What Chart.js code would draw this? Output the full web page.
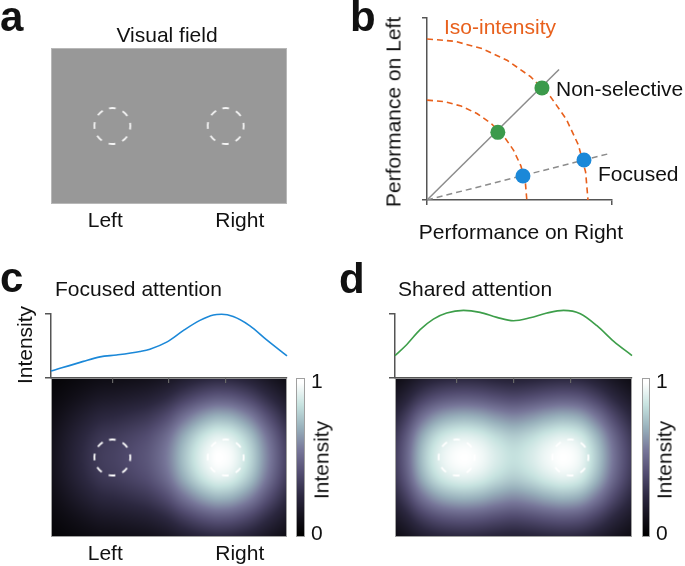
<!DOCTYPE html>
<html>
<head>
<meta charset="utf-8">
<script src="https://cdn.jsdelivr.net/npm/chart.js@4.4.1/dist/chart.umd.min.js"></script>
<style>
  body { margin: 0; background: #fff; }
  #wrap { position: relative; width: 685px; height: 566px; overflow: hidden; background: #fff; }
  #wrap canvas { position: absolute; left: 0; top: 0; }
</style>
</head>
<body>
<div id="wrap"></div>
<script>
// ---- data ----
// visual field positions run 0..100 from left to right
const fieldLabels = ['Left', 'Right'];
const fieldLabelPos = [23, 80];
const stimX = [26, 74];
const curveTicks = [26, 50, 74];

// panel b, performance units (outer iso-intensity circle = 1)
const isoOuter = [
  {x: 0, y: 1}, {x: 0.174, y: 0.985}, {x: 0.342, y: 0.94}, {x: 0.5, y: 0.866}, {x: 0.643, y: 0.766},
  {x: 0.766, y: 0.643}, {x: 0.866, y: 0.5}, {x: 0.94, y: 0.342}, {x: 0.985, y: 0.174}, {x: 1, y: 0}
];
const isoInner = [
  {x: 0, y: 0.62}, {x: 0.108, y: 0.611}, {x: 0.212, y: 0.583}, {x: 0.31, y: 0.537}, {x: 0.399, y: 0.475},
  {x: 0.475, y: 0.399}, {x: 0.537, y: 0.31}, {x: 0.583, y: 0.212}, {x: 0.611, y: 0.108}, {x: 0.62, y: 0}
];
const nonSelectiveLine = [{x: 0, y: 0}, {x: 0.82, y: 0.81}];
const focusedLine = [{x: 0, y: 0}, {x: 1.124, y: 0.286}];
const nonSelectivePts = [{x: 0.44, y: 0.42}, {x: 0.714, y: 0.696}];
const focusedPts = [{x: 0.596, y: 0.149}, {x: 0.975, y: 0.248}];

// panels c / d, intensity profiles
const focusedX = [0, 13.7, 20.8, 27.8, 37.7, 41.9, 49, 56, 63.1, 68.8, 72.3, 77.2, 84.3, 91.4, 100];
const focusedY = [0.108, 0.26, 0.33, 0.36, 0.415, 0.45, 0.56, 0.74, 0.9, 0.985, 0.995, 0.96, 0.815, 0.595, 0.345];
const sharedX = [0, 4.9, 10.6, 16.2, 21.8, 28.9, 35.9, 43, 50, 57, 64.1, 71.1, 78.2, 85.2, 92.3, 100];
const sharedY = [0.35, 0.52, 0.755, 0.92, 1.015, 1.056, 1.025, 0.947, 0.895, 0.94, 1.015, 1.056, 1.005, 0.817, 0.572, 0.35];
// vertical fall-off of the heat maps (-1 top edge .. 1 bottom edge)
const vertPos = [-1, -0.75, -0.5, -0.25, 0, 0.25, 0.5, 0.75, 1];
const vertProfile = [0.24, 0.46, 0.72, 0.93, 1, 0.93, 0.72, 0.46, 0.24];
const colorbarTicks = [0, 1];

// ---- styling ----
const FONT = "'Liberation Sans', Arial, Helvetica, sans-serif";
const ORANGE = '#e8601c', GREEN = '#3b9a4b', BLUE = '#1b88d8', AXIS = '#555';
const cmapStops = [
  [0, [0, 0, 0]], [0.1, [17, 15, 24]], [0.25, [44, 40, 64]], [0.4, [82, 76, 112]],
  [0.55, [118, 117, 152]], [0.7, [152, 176, 187]], [0.85, [198, 226, 223]], [1, [255, 255, 255]]
];

Chart.defaults.font.family = FONT;
Chart.defaults.font.size = 21;
Chart.defaults.color = '#111';
Chart.defaults.animation = false;
Chart.defaults.events = [];
Chart.defaults.plugins.legend.display = false;
Chart.defaults.plugins.tooltip.enabled = false;

const W = 685, H = 566;
const LABEL_BAND = 40;
const wrap = document.getElementById('wrap');
// chart area edges in page pixels; extra room is left for an axis band below / right
const area = (l, t, r, b, below, right) => ({left: l, top: t, right: W - r - (right || 0), bottom: H - b - (below || 0)});
const flat = s => { if (s.isHorizontal()) s.height = 0; else s.width = 0; };

function newCanvas() {
  const c = document.createElement('canvas');
  c.width = W; c.height = H;
  wrap.appendChild(c);
  return c;
}

function cmap(v) {
  v = Math.max(0, Math.min(1, v));
  for (let i = 1; i < cmapStops.length; i++) {
    if (v <= cmapStops[i][0]) {
      const [v0, c0] = cmapStops[i - 1], [v1, c1] = cmapStops[i];
      const t = (v - v0) / (v1 - v0);
      return c0.map((c, k) => Math.round(c + (c1[k] - c) * t));
    }
  }
  return [255, 255, 255];
}

// smooth (hermite) interpolation through read points
function interp(xs, ys, x) {
  const n = xs.length;
  if (x <= xs[0]) return ys[0];
  if (x >= xs[n - 1]) return ys[n - 1];
  let i = 0;
  while (x > xs[i + 1]) i++;
  const slope = k => {
    if (k === 0) return (ys[1] - ys[0]) / (xs[1] - xs[0]);
    if (k === n - 1) return (ys[n - 1] - ys[n - 2]) / (xs[n - 1] - xs[n - 2]);
    return (ys[k + 1] - ys[k - 1]) / (xs[k + 1] - xs[k - 1]);
  };
  const dx = xs[i + 1] - xs[i], t = (x - xs[i]) / dx;
  const t2 = t * t, t3 = t2 * t;
  return (2 * t3 - 3 * t2 + 1) * ys[i] + (t3 - 2 * t2 + t) * dx * slope(i) +
    (-2 * t3 + 3 * t2) * ys[i + 1] + (t3 - t2) * dx * slope(i + 1);
}

// dashed ring used as the point style for stimulus locations
function ring(color) {
  const c = document.createElement('canvas');
  c.width = c.height = 42;
  const g = c.getContext('2d');
  const r = 18, per = 2 * Math.PI * r / 8;
  g.strokeStyle = color;
  g.lineWidth = 1.8;
  g.setLineDash([per * 0.47, per * 0.53]);
  const a0 = -Math.PI / 2 - per * 0.235 / r;
  g.beginPath();
  g.arc(21, 21, r, a0, a0 + 2 * Math.PI);
  g.stroke();
  return c;
}

function fieldAxis(showLabels) {
  return {
    min: 0, max: 100,
    afterFit: s => { s.height = LABEL_BAND; },
    afterBuildTicks: s => { s.ticks = fieldLabelPos.map(v => ({value: v})); },
    ticks: {display: showLabels, autoSkip: false, maxRotation: 0, padding: 5, callback: (v, i) => fieldLabels[i]},
    grid: {display: false, drawTicks: false},
    border: {display: false}
  };
}

function endTicksAxis(max, ticks, len, color, width) {
  return {
    min: 0, max: max, afterFit: flat,
    afterBuildTicks: s => { s.ticks = ticks.map(v => ({value: v})); },
    ticks: {display: false},
    grid: {display: true, drawOnChartArea: false, drawTicks: true, tickLength: len, color: color, lineWidth: width},
    border: {display: true, color: AXIS, width: 1.5}
  };
}

// ---- panel a ----
new Chart(newCanvas(), {
  type: 'scatter',
  data: {datasets: [{data: stimX.map(x => ({x: x, y: 50})), pointStyle: ring('#f4f4f4'), pointRadius: 18}]},
  options: {
    responsive: false,
    layout: {padding: area(51, 48, 287, 204, LABEL_BAND)},
    scales: {x: fieldAxis(true), y: {display: false, min: 0, max: 100}}
  },
  plugins: [{
    id: 'field',
    beforeDatasetsDraw(chart) {
      const {ctx, chartArea: a} = chart;
      ctx.save();
      ctx.fillStyle = '#989898';
      ctx.fillRect(a.left, a.top, a.width, a.height);
      ctx.strokeStyle = '#b8b8b8';
      ctx.lineWidth = 1;
      ctx.strokeRect(a.left + 0.5, a.top + 0.5, a.width - 1, a.height - 1);
      ctx.restore();
    }
  }]
});

// ---- panel b ----
const lineSet = (data, color, dash, width) => ({
  data: data, showLine: true, pointRadius: 0, borderColor: color, borderWidth: width, borderDash: dash
});
new Chart(newCanvas(), {
  type: 'scatter',
  data: {datasets: [
    {data: nonSelectivePts, pointRadius: 7.5, backgroundColor: GREEN, borderWidth: 0},
    {data: focusedPts, pointRadius: 7.5, backgroundColor: BLUE, borderWidth: 0},
    lineSet(isoOuter, ORANGE, [6, 4], 1.6),
    lineSet(isoInner, ORANGE, [6, 4], 1.6),
    lineSet(nonSelectiveLine, '#8c8c8c', [], 1.5),
    lineSet(focusedLine, '#8c8c8c', [6, 4], 1.5)
  ]},
  options: {
    responsive: false,
    layout: {padding: area(427, 18, 612, 200)},
    scales: {
      x: endTicksAxis(1.149, [0, 1.149], 5, AXIS, 1.5),
      y: endTicksAxis(1.13, [0, 1.13], 5, AXIS, 1.5)
    }
  }
});

// ---- panels c / d ----
function curveChart(xs, ys, color, l, r) {
  new Chart(newCanvas(), {
    type: 'scatter',
    data: {datasets: [{
      data: xs.map((x, i) => ({x: x, y: ys[i]})), showLine: true, pointRadius: 0,
      borderColor: color, borderWidth: 1.6, cubicInterpolationMode: 'monotone', clip: false
    }]},
    options: {
      responsive: false,
      layout: {padding: area(l, 314, r, 378)},
      scales: {
        x: Object.assign(endTicksAxis(100, curveTicks, 5, '#666', 1.2), {border: {display: true, color: AXIS, width: 1.2}}),
        y: endTicksAxis(1, [0, 1], 6, AXIS, 1.5)
      }
    }
  });
}

function heatChart(xs, ys, l, r, showLabels) {
  const peak = Math.max(...ys);
  new Chart(newCanvas(), {
    type: 'scatter',
    data: {datasets: [{data: stimX.map(x => ({x: x, y: 0})), pointStyle: ring('#ffffff'), pointRadius: 18}]},
    options: {
      responsive: false,
      layout: {padding: area(l, 378, r, 537, LABEL_BAND)},
      scales: {x: fieldAxis(showLabels), y: {display: false, min: -1, max: 1}}
    },
    plugins: [{
      id: 'heat',
      beforeDatasetsDraw(chart) {
        const {ctx, chartArea: a, scales} = chart;
        const w = Math.round(a.width), h = Math.round(a.height);
        const fx = [], gy = [];
        for (let i = 0; i < w; i++) fx.push(interp(xs, ys, scales.x.getValueForPixel(a.left + i + 0.5)) / peak);
        for (let j = 0; j < h; j++) gy.push(interp(vertPos, vertProfile, scales.y.getValueForPixel(a.top + j + 0.5)));
        const img = ctx.createImageData(w, h);
        for (let j = 0; j < h; j++) {
          for (let i = 0; i < w; i++) {
            const c = cmap(fx[i] * gy[j]), k = (j * w + i) * 4;
            img.data[k] = c[0]; img.data[k + 1] = c[1]; img.data[k + 2] = c[2]; img.data[k + 3] = 255;
          }
        }
        ctx.putImageData(img, Math.round(a.left), Math.round(a.top));
        ctx.save();
        ctx.strokeStyle = '#a0a0a0';
        ctx.lineWidth = 1;
        ctx.strokeRect(Math.round(a.left) + 0.5, Math.round(a.top) + 0.5, w - 1, h - 1);
        ctx.restore();
      }
    }]
  });
}

function colorbar(l, r) {
  new Chart(newCanvas(), {
    type: 'scatter',
    data: {datasets: []},
    options: {
      responsive: false,
      layout: {padding: area(l, 378, r, 537, 0, LABEL_BAND)},
      scales: {
        x: {display: false, min: 0, max: 1},
        y: {
          position: 'right', min: -0.02, max: 1.03,
          afterFit: s => { s.width = LABEL_BAND; },
          afterBuildTicks: s => { s.ticks = colorbarTicks.map(v => ({value: v})); },
          ticks: {padding: 6, callback: v => String(v)},
          grid: {display: false, drawTicks: false},
          border: {display: false}
        }
      }
    },
    plugins: [{
      id: 'bar',
      beforeDatasetsDraw(chart) {
        const {ctx, chartArea: a, scales} = chart;
        ctx.save();
        for (let py = Math.floor(a.top); py < a.bottom; py++) {
          const c = cmap(scales.y.getValueForPixel(py + 0.5));
          ctx.fillStyle = `rgb(${c[0]},${c[1]},${c[2]})`;
          ctx.fillRect(a.left, py, a.width, 1);
        }
        ctx.strokeStyle = '#a0a0a0';
        ctx.lineWidth = 1;
        ctx.strokeRect(a.left + 0.5, a.top + 0.5, a.width - 1, a.height - 1);
        ctx.restore();
      }
    }]
  });
}

heatChart(focusedX, focusedY, 51, 287, true);
curveChart(focusedX, focusedY, BLUE, 51, 287);
colorbar(296, 305);
heatChart(sharedX, sharedY, 395, 632, false);
curveChart(sharedX, sharedY, '#3d9e4a', 395, 632);
colorbar(642, 650);

// ---- text ----
function label(text, x, y, o) {
  o = o || {};
  const d = document.createElement('div');
  d.textContent = text;
  const tx = o.align === 'left' ? '0' : '-50%';
  d.style.cssText = 'position:absolute;white-space:nowrap;line-height:1;left:' + x + 'px;top:' + y + 'px;' +
    'font-family:' + FONT + ';font-size:' + (o.size || 21) + 'px;font-weight:' + (o.bold ? 'bold' : 'normal') + ';' +
    'color:' + (o.color || '#111') + ';transform:translate(' + tx + ',-50%)' + (o.rot ? ' rotate(-90deg)' : '');
  wrap.appendChild(d);
}

label('a', 0, 16.5, {size: 42, bold: true, align: 'left'});
label('b', 350, 16.5, {size: 42, bold: true, align: 'left'});
label('c', 0, 277.5, {size: 42, bold: true, align: 'left'});
label('d', 339, 278.5, {size: 42, bold: true, align: 'left'});

label('Visual field', 167, 33.5);
label('Iso-intensity', 444, 25.5, {align: 'left', color: ORANGE});
label('Performance on Left', 393, 111.5, {rot: true});
label('Performance on Right', 521, 230.5);
label('Non-selective', 556, 87.5, {align: 'left'});
label('Focused', 598, 173, {align: 'left'});

label('Focused attention', 55, 287.5, {align: 'left'});
label('Shared attention', 398, 287.5, {align: 'left'});
label('Intensity', 24, 345, {rot: true});
label('Intensity', 321, 460, {rot: true});
label('Intensity', 664, 460, {rot: true});
</script>
</body>
</html>
